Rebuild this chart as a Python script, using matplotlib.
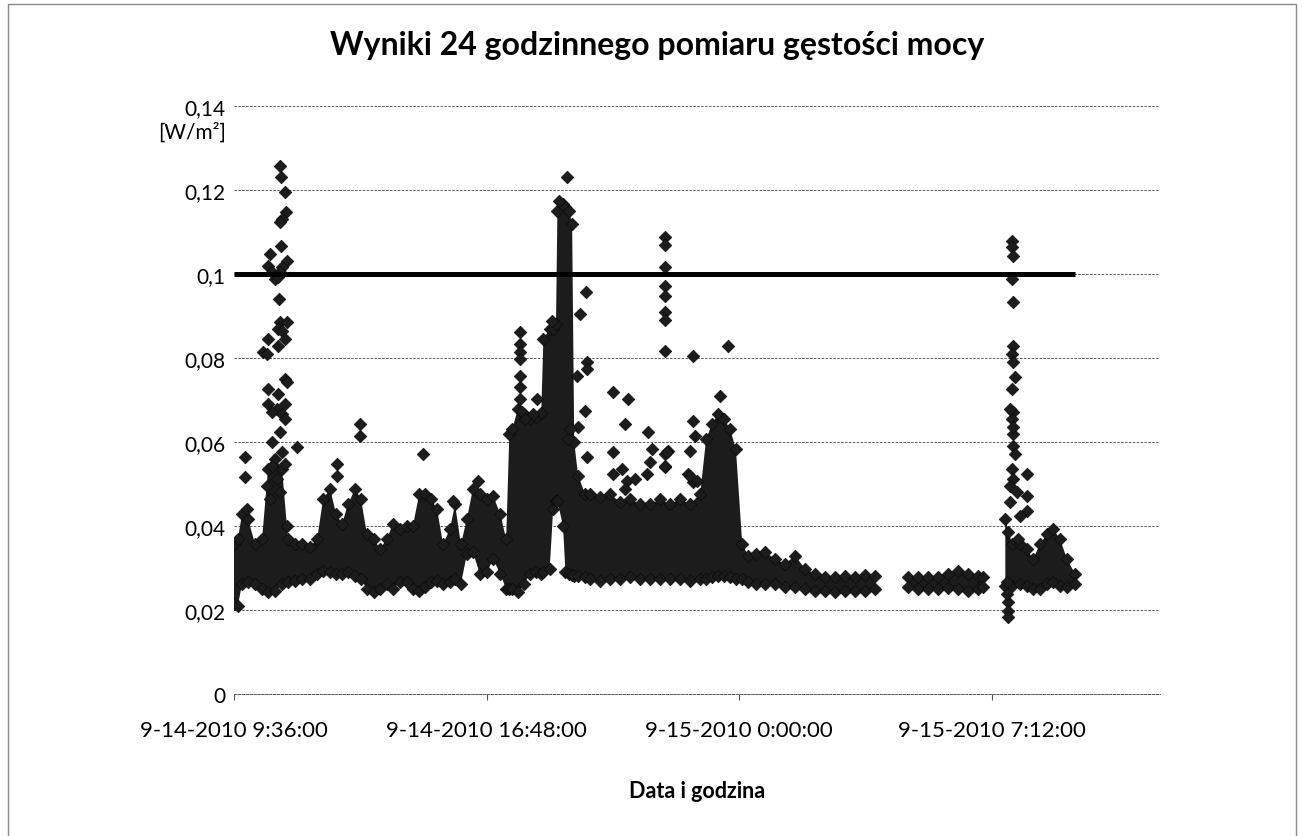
import numpy as np
import matplotlib
matplotlib.use("Agg")
import matplotlib.pyplot as plt
from matplotlib.patches import Rectangle

plt.rcParams["font.family"] = ["Lato", "DejaVu Sans"]

# czas w godzinach od 9-14-2010 0:00, gestosc mocy w W/m2
# gesty pas punktow: dolna i gorna krawedz
t_band = [9.60, 9.71, 9.83, 10.00, 10.20, 10.40, 10.57, 10.77, 10.97, 11.14,
          11.34, 11.54, 11.77, 11.97, 12.14, 12.34, 12.51, 12.68, 12.85, 13.05,
          13.22, 13.39, 13.59, 13.76, 13.96, 14.13, 14.33, 14.53, 14.70, 14.88,
          15.05, 15.22, 15.39, 15.56, 15.76, 15.90, 16.07, 16.24, 16.41, 16.61,
          16.81, 16.99, 17.19, 17.36, 17.45, 17.53, 17.70, 17.87, 18.04, 18.21,
          18.36, 18.42, 18.60, 18.70, 18.78, 18.82, 18.98, 19.05, 19.15, 19.24,
          19.30, 19.41, 19.61, 19.75, 20.04, 20.32, 20.61, 20.89, 21.18, 21.46,
          21.75, 22.03, 22.32, 22.60, 22.89, 23.06, 23.23, 23.40, 23.57, 23.74,
          23.91, 24.09, 24.26, 24.48, 24.74, 25.03, 25.31, 25.60, 25.88, 26.17,
          26.45, 26.74, 27.02, 27.31, 27.59, 27.88, 28.31, 28.82, 29.10, 29.39,
          29.67, 29.96, 30.24, 30.53, 30.82, 30.96, 31.30, 31.59, 31.78, 32.01,
          32.21, 32.38, 32.58, 32.78, 32.95, 33.15, 33.35, 33.58]
band_lo = [0.0214, 0.0210, 0.0262, 0.0267, 0.0262, 0.0250, 0.0243, 0.0245, 0.0262, 0.0267,
           0.0269, 0.0274, 0.0274, 0.0286, 0.0293, 0.0290, 0.0286, 0.0286, 0.0290, 0.0281,
           0.0274, 0.0250, 0.0243, 0.0250, 0.0262, 0.0250, 0.0267, 0.0267, 0.0250, 0.0245,
           0.0255, 0.0267, 0.0269, 0.0262, 0.0267, 0.0274, 0.0262, 0.0333, 0.0338, 0.0286,
           0.0290, 0.0321, 0.0286, 0.0250, 0.0250, 0.0250, 0.0243, 0.0262, 0.0286, 0.0290,
           0.0286, 0.0290, 0.0298, 0.0440, 0.0460, 0.0460, 0.0400, 0.0290, 0.0285, 0.0283,
           0.0281, 0.0281, 0.0279, 0.0274, 0.0269, 0.0274, 0.0274, 0.0279, 0.0274, 0.0274,
           0.0274, 0.0274, 0.0274, 0.0269, 0.0274, 0.0274, 0.0279, 0.0281, 0.0281, 0.0279,
           0.0274, 0.0274, 0.0267, 0.0262, 0.0262, 0.0262, 0.0255, 0.0255, 0.0250, 0.0245,
           0.0245, 0.0243, 0.0245, 0.0245, 0.0245, 0.0250, np.nan, 0.0255, 0.0250, 0.0250,
           0.0250, 0.0252, 0.0250, 0.0245, 0.0250, 0.0255, np.nan, 0.0257, 0.0257, 0.0262,
           0.0257, 0.0250, 0.0250, 0.0262, 0.0267, 0.0257, 0.0255, 0.0262]
band_hi = [0.0357, 0.0369, 0.0429, 0.0417, 0.0357, 0.0369, 0.0536, 0.0560, 0.0536, 0.0369,
           0.0357, 0.0357, 0.0350, 0.0369, 0.0464, 0.0488, 0.0429, 0.0405, 0.0452, 0.0488,
           0.0464, 0.0381, 0.0369, 0.0345, 0.0369, 0.0405, 0.0393, 0.0400, 0.0400, 0.0476,
           0.0476, 0.0464, 0.0440, 0.0357, 0.0393, 0.0452, 0.0357, 0.0417, 0.0488, 0.0476,
           0.0464, 0.0471, 0.0429, 0.0369, 0.0620, 0.0631, 0.0679, 0.0667, 0.0655, 0.0660,
           0.0670, 0.0845, 0.0869, 0.0869, 0.0880, 0.1150, 0.1167, 0.1160, 0.1150, 0.1120,
           0.0600, 0.0520, 0.0476, 0.0476, 0.0469, 0.0476, 0.0457, 0.0464, 0.0452, 0.0452,
           0.0464, 0.0452, 0.0464, 0.0452, 0.0476, 0.0607, 0.0643, 0.0667, 0.0655, 0.0631,
           0.0583, 0.0357, 0.0329, 0.0333, 0.0338, 0.0321, 0.0310, 0.0329, 0.0298, 0.0286,
           0.0279, 0.0279, 0.0281, 0.0279, 0.0283, 0.0281, np.nan, 0.0279, 0.0279, 0.0279,
           0.0279, 0.0286, 0.0293, 0.0286, 0.0281, 0.0279, np.nan, 0.0417, 0.0357, 0.0357,
           0.0345, 0.0321, 0.0357, 0.0381, 0.0393, 0.0369, 0.0321, 0.0286]

# pojedyncze punkty poza gestym pasmem
t_pts = [10.91, 10.94, 11.05, 11.08, 10.97, 10.91, 10.94, 10.63, 10.57, 10.68, 10.77, 11.11,
         10.97, 10.91, 10.85, 10.88, 10.91, 11.11, 10.85, 10.97, 10.57, 11.05, 10.85, 10.43,
         10.54, 11.05, 11.11, 10.57, 10.85, 10.57, 11.05, 10.83, 10.68, 10.97, 11.05, 10.91,
         10.68, 10.97, 11.40, 10.68, 11.05, 10.83, 10.54, 10.91, 10.63, 11.11, 9.91, 9.91,
         9.97, 12.54, 12.54, 13.19, 13.19, 14.99, 15.84, 16.56,
         17.76, 17.76, 17.76, 17.76, 17.76, 17.76, 17.76, 18.24, 18.13, 17.81, 17.90,
         19.10, 18.87, 19.64, 19.47, 18.67, 19.67, 19.67, 19.61, 19.41, 19.18, 19.12, 19.67,
         19.38, 20.41, 20.83, 20.75, 20.41, 20.41, 20.66, 20.81, 21.03, 20.75, 21.41, 21.52,
         21.46, 21.38, 21.89, 21.89, 21.98, 22.69, 22.69, 22.75, 22.60, 22.55, 22.69,
         21.89, 21.89, 21.89, 21.89, 21.89, 21.89, 21.89, 21.89, 23.69, 23.46, 21.95, 21.89,
         22.60, 22.80,
         31.78, 31.78, 31.81, 31.78, 31.81, 31.81, 31.78, 31.81, 31.87, 31.78, 31.81, 31.78,
         31.81, 31.81, 31.87, 31.78, 31.81, 32.21, 31.73, 31.93, 32.21, 31.73, 32.21, 32.01,
         31.67, 31.96, 31.64, 31.67, 31.67, 31.67, 31.64, 31.73, 31.81]
v_pts = [0.1257, 0.1231, 0.1195, 0.1148, 0.1131, 0.1124, 0.1067, 0.1048, 0.1019, 0.1005,
         0.0988, 0.1031, 0.1017, 0.1005, 0.0993, 0.0940, 0.0886, 0.0886, 0.0869, 0.0864,
         0.0845, 0.0845, 0.0829, 0.0814, 0.0810, 0.0750, 0.0743, 0.0726, 0.0714, 0.0690,
         0.0690, 0.0679, 0.0671, 0.0667, 0.0655, 0.0624, 0.0600, 0.0576, 0.0588, 0.0543,
         0.0548, 0.0512, 0.0495, 0.0481, 0.0464, 0.0400, 0.0564, 0.0517, 0.0440,
         0.0548, 0.0519, 0.0643, 0.0614, 0.0571, 0.0460, 0.0507,
         0.0862, 0.0833, 0.0814, 0.0798, 0.0757, 0.0731, 0.0702, 0.0702, 0.0667, 0.0671, 0.0655,
         0.1231, 0.1174, 0.0957, 0.0905, 0.0888, 0.0790, 0.0774, 0.0674, 0.0636, 0.0631,
         0.0607, 0.0564, 0.0757, 0.0719, 0.0702, 0.0643, 0.0576, 0.0524, 0.0536, 0.0507,
         0.0512, 0.0488, 0.0624, 0.0583, 0.0552, 0.0524, 0.0571, 0.0540, 0.0579, 0.0805,
         0.0650, 0.0614, 0.0579, 0.0524, 0.0505,
         0.1088, 0.1069, 0.1017, 0.0971, 0.0948, 0.0910, 0.0890, 0.0817, 0.0829, 0.0710,
         0.0576, 0.0543, 0.0519, 0.0507,
         0.1079, 0.1064, 0.1043, 0.0988, 0.0933, 0.0829, 0.0810, 0.0790, 0.0755, 0.0726,
         0.0671, 0.0655, 0.0619, 0.0590, 0.0571, 0.0536, 0.0512, 0.0524, 0.0495, 0.0481,
         0.0471, 0.0457, 0.0436, 0.0424, 0.0386, 0.0369, 0.0267, 0.0219, 0.0198, 0.0183,
         0.0238, 0.0679, 0.0636]

limit_t = [9.60, 33.58]
limit_v = [0.1, 0.1]

x_ticks = [9.6, 16.8, 24.0, 31.2]
x_labels = ["9-14-2010 9:36:00", "9-14-2010 16:48:00", "9-15-2010 0:00:00", "9-15-2010 7:12:00"]
y_ticks = [0, 0.02, 0.04, 0.06, 0.08, 0.1, 0.12, 0.14]
y_labels = ["0", "0,02", "0,04", "0,06", "0,08", "0,1", "0,12", "0,14"]

W, H = 1302, 837
fig = plt.figure(figsize=(W / 100, H / 100), dpi=100)
ax = fig.add_axes([234 / W, 1 - 695 / H, (1160 - 234) / W, (695 - 107) / H])

dark = "#1c1c1c"
ax.fill_between(t_band, band_lo, band_hi, color=dark, lw=0, zorder=3)
mk = dict(marker="D", s=42, c=dark, edgecolors="#050505", linewidths=0.4, zorder=4)
ax.scatter(t_band, band_hi, **mk)
ax.scatter(t_band, band_lo, **mk)
ax.scatter(t_pts, v_pts, **mk)
ax.plot(limit_t, limit_v, color="black", lw=3.6, zorder=5, solid_capstyle="butt")

ax.set_xlim(9.6, 36.0)
ax.set_ylim(0, 0.14)
ax.set_xticks(x_ticks, x_labels)
ax.set_yticks(y_ticks, y_labels)
ax.grid(axis="y", color="#5a5a5a", lw=0.7, ls=(0, (2.5, 1.5)), zorder=0)
for s in ["left", "right", "top"]:
    ax.spines[s].set_visible(False)
ax.spines["bottom"].set_color("#5a5a5a")
ax.spines["bottom"].set_linestyle((0, (2.5, 1.5)))
ax.spines["bottom"].set_linewidth(0.7)
ax.tick_params(axis="x", length=4, width=0.8, color="#555555", pad=15, labelsize=16)
ax.tick_params(axis="y", length=0, pad=6, labelsize=15)

fig.text(0.5045, 1 - 45 / H, "Wyniki 24 godzinnego pomiaru gęstości mocy",
         ha="center", va="center", fontsize=23, fontweight="bold")
fig.text(226 / W, 1 - 133 / H, "[W/m²]", ha="right", va="center", fontsize=15)
fig.text(697 / W, 1 - 792 / H, "Data i godzina", ha="center", va="center",
         fontsize=15.5, fontweight="bold")

fig.add_artist(Rectangle((8 / W, -0.01), (1296 - 8) / W, 1 - 5 / H + 0.01,
                         transform=fig.transFigure, fill=False, ec="#8a8a8a", lw=1.0))

fig.savefig("out.png", dpi=100)
